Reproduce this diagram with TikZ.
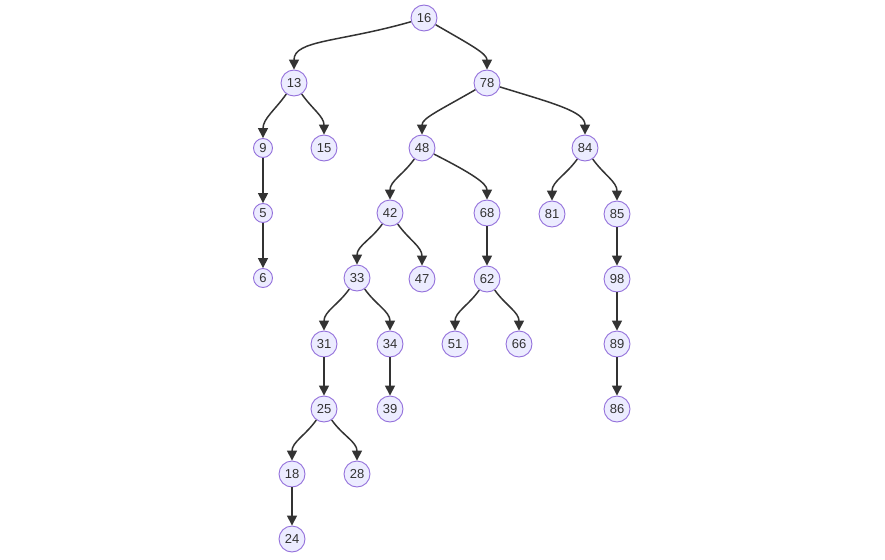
\documentclass[tikz,border=0pt]{standalone}
\usepackage{fontspec}
\setmainfont{Liberation Sans}
\usetikzlibrary{arrows.meta}
\definecolor{nfill}{RGB}{236,236,255}
\definecolor{nline}{RGB}{147,112,219}
\definecolor{ink}{RGB}{51,51,51}
\begin{document}
\begin{tikzpicture}[x=1pt,y=-1pt,
  nd/.style={circle,fill=nfill,draw=nline,line width=0.9pt,inner sep=0pt,minimum size=26pt,text=ink,font=\fontsize{13pt}{15pt}\selectfont},
  sm/.style={nd,minimum size=19pt},
  edge/.style={draw=ink,line width=1.5pt,-{Triangle[length=10pt,width=10pt]}},
  far/.style={out looseness=1.5,in looseness=0.6}]
\useasboundingbox (0,0) rectangle (885,559);
\node[nd] (n16) at (424,18) {16};
\node[nd] (n13) at (294,83) {13};
\node[nd] (n78) at (487,83) {78};
\node[sm] (n9) at (263,148) {9};
\node[nd] (n15) at (324,148) {15};
\node[nd] (n48) at (422,148) {48};
\node[nd] (n84) at (585,148) {84};
\node[sm] (n5) at (263,213) {5};
\node[nd] (n42) at (390,213) {42};
\node[nd] (n68) at (487,213) {68};
\node[nd] (n81) at (552,214) {81};
\node[nd] (n85) at (617,214) {85};
\node[sm] (n6) at (263,278) {6};
\node[nd] (n33) at (357,278) {33};
\node[nd] (n47) at (422,279) {47};
\node[nd] (n62) at (487,279) {62};
\node[nd] (n98) at (617,279) {98};
\node[nd] (n31) at (324,344) {31};
\node[nd] (n34) at (390,344) {34};
\node[nd] (n51) at (455,344) {51};
\node[nd] (n66) at (519,344) {66};
\node[nd] (n89) at (617,344) {89};
\node[nd] (n25) at (324,409) {25};
\node[nd] (n39) at (390,409) {39};
\node[nd] (n86) at (617,409) {86};
\node[nd] (n18) at (292,474) {18};
\node[nd] (n28) at (357,474) {28};
\node[nd] (n24) at (292,539) {24};
% edges
\draw[edge] (n16) to[out=196,in=90,far] (n13);
\draw[edge] (n16) to[out=-30,in=90,far] (n78);
\draw[edge] (n13) to[out=-125,in=90] (n9);
\draw[edge] (n13) to[out=-55,in=90] (n15);
\draw[edge] (n78) to[out=-150,in=90,far] (n48);
\draw[edge] (n78) to[out=-17,in=90,far] (n84);
\draw[edge] (n9) -- (n5);
\draw[edge] (n5) -- (n6);
\draw[edge] (n48) to[out=-125,in=90] (n42);
\draw[edge] (n48) to[out=-27,in=90,far] (n68);
\draw[edge] (n84) to[out=-125,in=90] (n81);
\draw[edge] (n84) to[out=-55,in=90] (n85);
\draw[edge] (n42) to[out=-125,in=90] (n33);
\draw[edge] (n42) to[out=-55,in=90] (n47);
\draw[edge] (n68) -- (n62);
\draw[edge] (n85) -- (n98);
\draw[edge] (n33) to[out=-125,in=90] (n31);
\draw[edge] (n33) to[out=-55,in=90] (n34);
\draw[edge] (n62) to[out=-125,in=90] (n51);
\draw[edge] (n62) to[out=-55,in=90] (n66);
\draw[edge] (n98) -- (n89);
\draw[edge] (n31) -- (n25);
\draw[edge] (n34) -- (n39);
\draw[edge] (n89) -- (n86);
\draw[edge] (n25) to[out=-125,in=90] (n18);
\draw[edge] (n25) to[out=-55,in=90] (n28);
\draw[edge] (n18) -- (n24);
\end{tikzpicture}
\end{document}
